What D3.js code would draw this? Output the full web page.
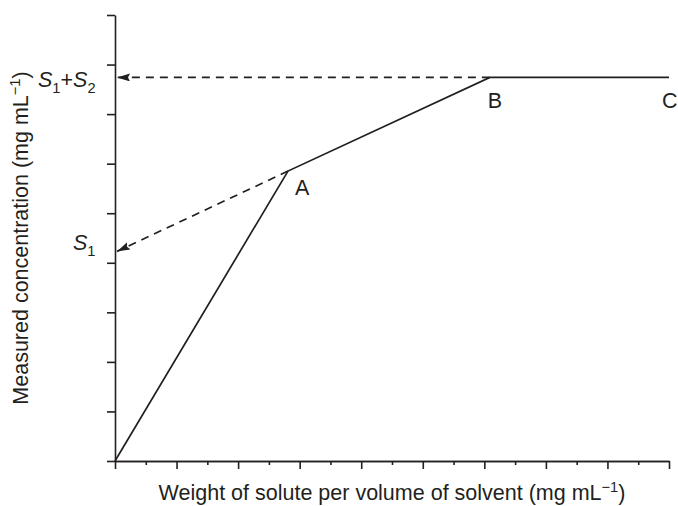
<!DOCTYPE html>
<html>
<head>
<meta charset="utf-8">
<script src="https://cdn.jsdelivr.net/npm/d3@7"></script>
<style>
  html, body { margin: 0; padding: 0; background: #fff; }
  svg { display: block; }
  text { font-family: "Liberation Sans", Arial, Helvetica, sans-serif; fill: #231f20; }
</style>
</head>
<body>
<svg id="chart" width="678" height="506"></svg>
<script>
// Solubility curve: measured concentration vs. amount of solute added
const pointNames = ["O", "A", "B", "C"];
const pointX = [0, 2.81, 6.09, 9];       // mg/mL added
const pointY = [0, 5.85, 7.74, 7.74];    // mg/mL measured
const labelS1 = 4.23;                    // AB extrapolated to zero
const labelS1S2 = 7.74;                  // plateau level
const xMajorTicks = d3.range(0, 9.01, 1);
const xMinorTicks = d3.range(0.5, 9, 1);
const yTicks = d3.range(0, 9.01, 1);

const ink = "#231f20";
const svg = d3.select("#chart");

const x = d3.scaleLinear().domain([0, 9]).range([115, 669]);
const y = d3.scaleLinear().domain([0, 9]).range([461, 15]);

// arrowhead marker
svg.append("defs").append("marker")
  .attr("id", "arrow")
  .attr("viewBox", "0 0 13 8")
  .attr("refX", 13).attr("refY", 4)
  .attr("markerWidth", 13).attr("markerHeight", 8)
  .attr("markerUnits", "userSpaceOnUse")
  .attr("orient", "auto")
  .append("path")
  .attr("d", "M0,0 L13,4 L0,8 L2,4 Z")
  .attr("fill", ink);

// axes
const styleAxis = g => {
  g.selectAll("path, line").attr("stroke", ink).attr("stroke-width", 1.6);
  g.selectAll("text").remove();
};

svg.append("g")
  .attr("transform", `translate(0,${y(0)})`)
  .call(d3.axisBottom(x).tickValues(xMinorTicks).tickSize(4).tickSizeOuter(0).tickFormat(""))
  .call(styleAxis);
svg.append("g")
  .attr("transform", `translate(0,${y(0)})`)
  .call(d3.axisBottom(x).tickValues(xMajorTicks).tickSize(8).tickSizeOuter(0).tickFormat(""))
  .call(styleAxis);
svg.append("g")
  .attr("transform", `translate(${x(0)},0)`)
  .call(d3.axisLeft(y).tickValues(yTicks).tickSize(8).tickSizeOuter(0).tickFormat(""))
  .call(styleAxis);

// solid curve O-A-B-C
const pts = pointX.map((v, i) => [v, pointY[i]]);
svg.append("path")
  .datum(pts)
  .attr("fill", "none")
  .attr("stroke", ink)
  .attr("stroke-width", 1.7)
  .attr("stroke-linejoin", "miter")
  .attr("d", d3.line().x(d => x(d[0])).y(d => y(d[1])));

// dashed projections to the y axis
const dashed = [
  [[pointX[1], pointY[1]], [0, labelS1]],
  [[pointX[2], pointY[2]], [0, labelS1S2]]
];
svg.selectAll(".proj")
  .data(dashed)
  .join("path")
  .attr("class", "proj")
  .attr("fill", "none")
  .attr("stroke", ink)
  .attr("stroke-width", 1.7)
  .attr("stroke-dasharray", "8,6")
  .attr("marker-end", "url(#arrow)")
  .attr("d", d => d3.line()([[x(d[0][0]), y(d[0][1])], [x(d[1][0]) + 2, y(d[1][1])]]));

// point letters
const fs = 21.5;
const letterOffsets = { A: [7, 24], B: [-2, 31], C: [-7, 31] };
pointNames.slice(1).forEach((n, i) => {
  const [dx, dy] = letterOffsets[n];
  svg.append("text")
    .attr("x", x(pointX[i + 1]) + dx)
    .attr("y", y(pointY[i + 1]) + dy)
    .attr("font-size", fs)
    .text(n);
});

// S labels on the y axis
const s1 = svg.append("text")
  .attr("x", 73).attr("y", y(labelS1) - 1)
  .attr("font-size", fs);
s1.append("tspan").attr("font-style", "italic").text("S");
s1.append("tspan").attr("font-size", fs * 0.68).attr("dy", 6).text("1");

const s12 = svg.append("text")
  .attr("x", 38).attr("y", y(labelS1S2) + 10)
  .attr("font-size", fs);
s12.append("tspan").attr("font-style", "italic").text("S");
s12.append("tspan").attr("font-size", fs * 0.68).attr("dy", 6).text("1");
s12.append("tspan").attr("dy", -6).text("+");
s12.append("tspan").attr("font-style", "italic").text("S");
s12.append("tspan").attr("font-size", fs * 0.68).attr("dy", 6).text("2");

// axis titles
const xt = svg.append("text")
  .attr("x", (x(0) + x(9)) / 2).attr("y", 500)
  .attr("text-anchor", "middle")
  .attr("font-size", fs);
xt.append("tspan").text("Weight of solute per volume of solvent (mg mL");
xt.append("tspan").attr("font-size", fs * 0.68).attr("dy", -8).text("\u22121");
xt.append("tspan").attr("dy", 8).text(")");

const yt = svg.append("text")
  .attr("transform", `translate(28,238) rotate(-90)`)
  .attr("text-anchor", "middle")
  .attr("font-size", fs);
yt.append("tspan").text("Measured concentration (mg mL");
yt.append("tspan").attr("font-size", fs * 0.68).attr("dy", -8).text("\u22121");
yt.append("tspan").attr("dy", 8).text(")");
</script>
</body>
</html>
